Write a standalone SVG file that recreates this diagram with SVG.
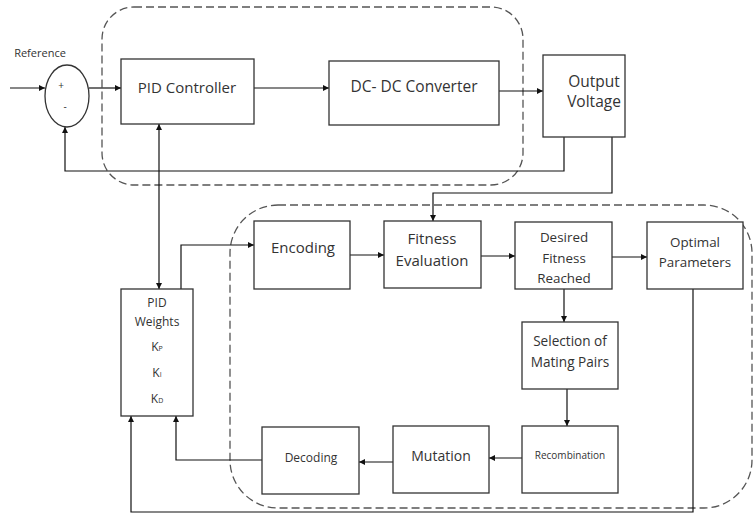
<svg xmlns="http://www.w3.org/2000/svg" width="753" height="515" viewBox="0 0 753 515">
<style>
.box{fill:#fff;stroke:#333;stroke-width:1.3}
.grp{fill:none;stroke:#555;stroke-width:1.3;stroke-dasharray:8,4}
.ln{fill:none;stroke:#111;stroke-width:1.2}
.t{font-family:"Open Sans","Liberation Sans",sans-serif;fill:#333;text-anchor:middle}
</style>
<defs>
<marker id="ah" viewBox="0 0 6 6" refX="6" refY="3" markerWidth="6" markerHeight="6" markerUnits="userSpaceOnUse" orient="auto-start-reverse">
<path d="M0,0 L6,3 L0,6 z" fill="#111"/>
</marker>
</defs>
<rect width="753" height="515" fill="#fff"/>
<g id="groups">
<rect class="grp" x="102" y="7" width="421" height="178" rx="32"/>
<rect class="grp" x="230" y="205" width="522" height="303" rx="48"/>
</g>
<g id="connectors">
<path class="ln" d="M10,88 H45" marker-end="url(#ah)"/>
<path class="ln" d="M89,88 H121" marker-end="url(#ah)"/>
<path class="ln" d="M254,88 H329" marker-end="url(#ah)"/>
<path class="ln" d="M499,91 H543" marker-end="url(#ah)"/>
<path class="ln" d="M564,137 V171 H65 V127" marker-end="url(#ah)"/>
<path class="ln" d="M612,137 V193 H433 V221" marker-end="url(#ah)"/>
<path class="ln" d="M159,124 V289" marker-start="url(#ah)" marker-end="url(#ah)"/>
<path class="ln" d="M181,289 V245 H254" marker-end="url(#ah)"/>
<path class="ln" d="M350,255 H384" marker-end="url(#ah)"/>
<path class="ln" d="M481,256 H515" marker-end="url(#ah)"/>
<path class="ln" d="M612,257 H647" marker-end="url(#ah)"/>
<path class="ln" d="M564,289 V322" marker-end="url(#ah)"/>
<path class="ln" d="M567,389 V426" marker-end="url(#ah)"/>
<path class="ln" d="M522,458 H489" marker-end="url(#ah)"/>
<path class="ln" d="M393,462 H359" marker-end="url(#ah)"/>
<path class="ln" d="M262,460 H176 V416" marker-end="url(#ah)"/>
<path class="ln" d="M693,289 V512 H131 V416" marker-end="url(#ah)"/>
</g>
<g id="reference-label">
<text class="t" x="40" y="57" font-size="11">Reference</text>
</g>
<g id="sum">
<ellipse class="box" cx="67" cy="96" rx="22" ry="31"/>
<text class="t" x="61" y="89" font-size="10">+</text>
<text class="t" x="65" y="110" font-size="10">-</text>
</g>
<g id="pid-controller">
<rect class="box" x="121" y="59" width="133" height="65"/>
<text class="t" x="187" y="93" font-size="15">PID Controller</text>
</g>
<g id="dc-dc-converter">
<rect class="box" x="329" y="61" width="170" height="64"/>
<text class="t" x="414" y="92" font-size="15.5">DC- DC Converter</text>
</g>
<g id="output-voltage">
<rect class="box" x="543" y="55" width="82" height="82"/>
<text class="t" x="594" y="87" font-size="15.5">Output</text>
<text class="t" x="594" y="107" font-size="15.5">Voltage</text>
</g>
<g id="pid-weights">
<rect class="box" x="121" y="289" width="72" height="127"/>
<text class="t" x="157" y="307" font-size="12">PID</text>
<text class="t" x="157" y="326" font-size="12">Weights</text>
<text class="t" x="157" y="351" font-size="12">K<tspan font-size="7">P</tspan></text>
<text class="t" x="157" y="377" font-size="12">K<tspan font-size="7">I</tspan></text>
<text class="t" x="157" y="403" font-size="12">K<tspan font-size="7">D</tspan></text>
</g>
<g id="encoding">
<rect class="box" x="254" y="221" width="96" height="68"/>
<text class="t" x="303" y="253" font-size="15">Encoding</text>
</g>
<g id="fitness-evaluation">
<rect class="box" x="384" y="221" width="97" height="67"/>
<text class="t" x="432" y="244" font-size="15">Fitness</text>
<text class="t" x="432" y="266" font-size="15">Evaluation</text>
</g>
<g id="desired-fitness">
<rect class="box" x="515" y="222" width="97" height="67"/>
<text class="t" x="564" y="242" font-size="13.4">Desired</text>
<text class="t" x="564" y="263" font-size="13.4">Fitness</text>
<text class="t" x="564" y="283" font-size="13.4">Reached</text>
</g>
<g id="optimal-parameters">
<rect class="box" x="647" y="222" width="96" height="67"/>
<text class="t" x="695" y="247" font-size="13.4">Optimal</text>
<text class="t" x="695" y="267" font-size="13.4">Parameters</text>
</g>
<g id="selection">
<rect class="box" x="522" y="322" width="96" height="67"/>
<text class="t" x="570" y="346" font-size="13.6">Selection of</text>
<text class="t" x="570" y="367" font-size="13.6">Mating Pairs</text>
</g>
<g id="recombination">
<rect class="box" x="522" y="426" width="96" height="67"/>
<text class="t" x="570" y="459" font-size="10">Recombination</text>
</g>
<g id="mutation">
<rect class="box" x="393" y="426" width="96" height="67"/>
<text class="t" x="441" y="461" font-size="14">Mutation</text>
</g>
<g id="decoding">
<rect class="box" x="262" y="427" width="97" height="67"/>
<text class="t" x="311" y="462" font-size="12">Decoding</text>
</g>
</svg>
